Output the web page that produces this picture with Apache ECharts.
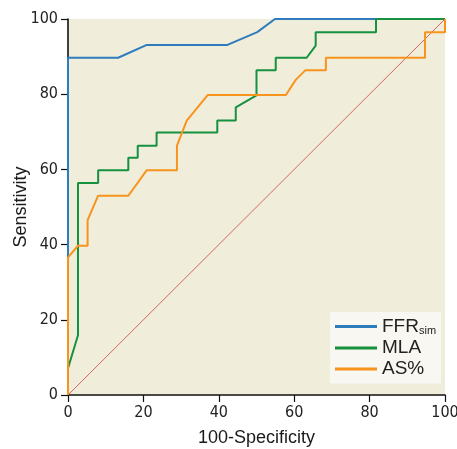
<!DOCTYPE html>
<html>
<head>
<meta charset="utf-8">
<script src="https://cdn.jsdelivr.net/npm/echarts@6/dist/echarts.min.js"></script>
<style>
	html, body { margin: 0; padding: 0; background: #fff; }
	#chart { width: 457px; height: 449px; }
</style>
</head>
<body>
<div id="chart"></div>
<script>
// 1 ROC 曲线数据 (x = 100-Specificity, y = Sensitivity)
var ffrSpec = [0, 0, 13.3, 20.9, 42.3, 50.2, 54.9, 100];
var ffrSens = [0, 89.7, 89.7, 93.1, 93.1, 96.5, 100, 100];

var mlaSpec = [0, 0, 2.65, 2.65, 8, 8, 16, 16, 18.5, 18.5, 23.5, 23.5, 39.6, 39.6, 44.5, 44.5, 50, 50, 55.1, 55.1, 63.3, 65.7, 65.7, 81.7, 81.7, 100];
var mlaSens = [0, 7.1, 15.9, 56.4, 56.4, 59.8, 59.8, 63.1, 63.1, 66.3, 66.3, 69.8, 69.8, 73, 73, 76.5, 79.7, 86.4, 86.4, 89.7, 89.7, 92.9, 96.5, 96.5, 100, 100];

var asSpec = [0, 0, 2.65, 5.2, 5.2, 8, 16, 20.9, 28.9, 28.9, 31.5, 37.1, 57.8, 60.4, 63, 68.4, 68.4, 94.7, 94.7, 100, 100];
var asSens = [0, 36.6, 39.7, 39.7, 46.5, 53, 53, 59.8, 59.8, 66.3, 73, 79.8, 79.8, 83.8, 86.4, 86.4, 89.7, 89.7, 96.5, 96.5, 100];

var refLine = [0, 100];
var tickLabels = [0, 20, 40, 60, 80, 100];

function zip(xs, ys) {
	return xs.map(function (x, i) { return [x, ys[i]]; });
}

var myChart = echarts.init(document.getElementById('chart'));
var tickFont = "'DejaVu Sans Condensed', sans-serif";

var option = {
	animation: false,
	grid: {
		left: 68, right: 12, top: 19, bottom: 54,
		outerBoundsMode: 'none',
		containLabel: false,
		show: true,
		backgroundColor: '#f1eddb',
		borderWidth: 0
	},
	legend: {
		orient: 'vertical',
		left: 330,
		top: 312,
		padding: [5, 5, 5, 5],
		backgroundColor: '#f8f7f1',
		itemWidth: 42,
		itemHeight: 3,
		itemGap: 2,
		icon: 'rect',
		data: ['FFRsim', 'MLA', 'AS%'],
		formatter: function (name) {
			return name === 'FFRsim' ? '{m|FFR}{s|sim}' : '{m|' + name + '}';
		},
		textStyle: {
			rich: {
				m: { fontFamily: 'Liberation Sans', fontSize: 19, color: '#222', lineHeight: 19 },
				s: { fontFamily: 'Liberation Sans', fontSize: 11, color: '#222', padding: [9, 0, 0, 0] }
			}
		}
	},
	xAxis: {
		type: 'value',
		min: 0, max: 100, interval: 20,
		name: '100-Specificity',
		nameLocation: 'middle',
		nameGap: 34,
		nameMoveOverlap: false,
		nameTextStyle: { fontFamily: 'Liberation Sans', fontSize: 18, color: '#1a1a1a' },
		axisLine: { lineStyle: { color: '#111', width: 1.6 } },
		axisTick: { length: 7, lineStyle: { color: '#111', width: 1.2 } },
		axisLabel: {
			margin: 10, fontFamily: tickFont, fontSize: 16, color: '#222',
			formatter: function (v) { return tickLabels.indexOf(v) >= 0 ? String(v) : ''; }
		},
		splitLine: { show: false }
	},
	yAxis: {
		type: 'value',
		min: 0, max: 100, interval: 20,
		name: 'Sensitivity',
		nameLocation: 'middle',
		nameGap: 38,
		nameMoveOverlap: false,
		nameTextStyle: { fontFamily: 'Liberation Sans', fontSize: 18, color: '#1a1a1a' },
		axisLine: { show: true, lineStyle: { color: '#111', width: 1.6 } },
		axisTick: { show: true, length: 7, lineStyle: { color: '#111', width: 1.2 } },
		axisLabel: { margin: 10, fontFamily: tickFont, fontSize: 16, color: '#222' },
		splitLine: { show: false }
	},
	series: [{
		name: 'ref', type: 'line', silent: true, symbol: 'none',
		data: zip(refLine, refLine),
		lineStyle: { color: '#cc4444', width: 0.8 }
	}, {
		name: 'FFRsim', type: 'line', symbol: 'none',
		data: zip(ffrSpec, ffrSens),
		itemStyle: { color: '#2e7bbd' },
		lineStyle: { color: '#2e7bbd', width: 2 }
	}, {
		name: 'MLA', type: 'line', symbol: 'none',
		data: zip(mlaSpec, mlaSens),
		itemStyle: { color: '#15913f' },
		lineStyle: { color: '#15913f', width: 2 }
	}, {
		name: 'AS%', type: 'line', symbol: 'none',
		data: zip(asSpec, asSens),
		itemStyle: { color: '#f7941d' },
		lineStyle: { color: '#f7941d', width: 2 }
	}]
};
myChart.setOption(option);
</script>
</body>
</html>
